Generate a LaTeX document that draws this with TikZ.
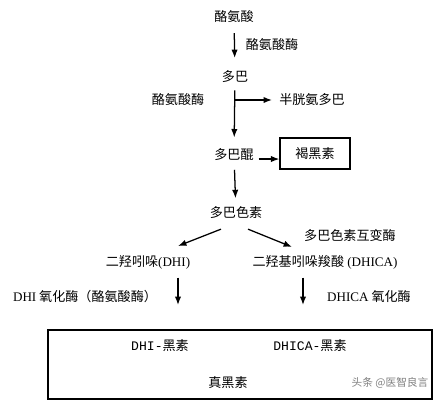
\documentclass[tikz,border=0pt]{standalone}
\usepackage{fontspec}
\setmainfont{Noto Sans CJK SC}
\newfontfamily\latin{Liberation Serif}
\newfontfamily\mono{Liberation Mono}
\usetikzlibrary{positioning, calc, arrows.meta}

\tikzset{
  txt/.style={inner sep=2pt, font=\fontsize{9.3}{11}\selectfont},
  flow/.style={-{Latex[length=6pt,width=4.5pt]}, line width=0.9pt},
  pigbox/.style={draw, line width=0.9pt, inner sep=0pt, minimum width=1.75cm, minimum height=0.775cm, font=\fontsize{9.3}{11}\selectfont},
}

\begin{document}
\begin{tikzpicture}[x=0.025cm, y=-0.025cm]
    \useasboundingbox (0,0) rectangle (440,404);

    % Main pathway
    \node[txt] (tyr) at (234,17) {酪氨酸};
    \node[txt] (dopa) at (235,77) {多巴};
    \node[txt] (dq) at (234,155) {多巴醌};
    \node[txt] (dc) at (236,213) {多巴色素};
    \node[txt] (dhi) at (148,262) {二羟吲哚{\latin(DHI)}};
    \node[txt] (dhica) at (325,262) {二羟基吲哚羧酸{\latin\ (DHICA)}};

    % Side products
    \node[txt] (cys) at (312,100) {半胱氨多巴};
    \node[pigbox] (pheo) at (315,153.5) {褐黑素};

    % Enzymes
    \node[txt] (tyrase) at (272,45) {酪氨酸酶};
    \node[txt] (tyrase2) at (178,100) {酪氨酸酶};
    \node[txt] (dct) at (350,235) {多巴色素互变酶};
    \node[txt] (dhiox) at (85,297) {{\latin DHI} 氧化酶（酪氨酸酶）};
    \node[txt] (dhicaox) at (369,297) {{\latin DHICA} 氧化酶};

    % Eumelanin box
    \node[draw, line width=0.9pt, inner sep=0pt, minimum width=9.6cm, minimum height=1.725cm] (eu) at (240,364.5) {};
    \node[txt] (dhim) at (160,346) {{\mono DHI-}黑素};
    \node[txt] (dhicam) at (310,346) {{\mono DHICA-}黑素};
    \node[txt] (eum) at (228,383) {真黑素};
    \node[txt, text=gray, font=\fontsize{7.6}{9}\selectfont] (mark) at (390,383) {头条 @医智良言};

    % Connectors
    \coordinate (fork) at (dopa.south |- cys);
    \coordinate (dqout) at ($(dq.east)+(2,4)$);
    \coordinate (dhiend) at (178,305);
    \coordinate (dhicaend) at (303,305);

    \draw[flow, shorten <=5pt, shorten >=7pt] (tyr) -- (dopa);
    \draw[flow, shorten <=3pt, shorten >=6pt] (dopa) -- (dq);
    \draw[flow, shorten >=3pt] (fork) -- (cys);
    \draw[flow] (dqout) -- (dqout -| pheo.west);
    \draw[flow, shorten <=4pt, shorten >=4pt] (dq) -- (dc);
    \draw[flow] ($(dc.south)+(-15,7)$) -- ($(dhi.north)+(30,-6)$);
    \draw[flow] ($(dc.south)+(12,7)$) -- ($(dhica.north)+(-33,-5)$);
    \draw[flow, shorten <=4pt] (dhi.south -| dhiend) -- (dhiend);
    \draw[flow, shorten <=4pt] (dhica.south -| dhicaend) -- (dhicaend);
\end{tikzpicture}
\end{document}
